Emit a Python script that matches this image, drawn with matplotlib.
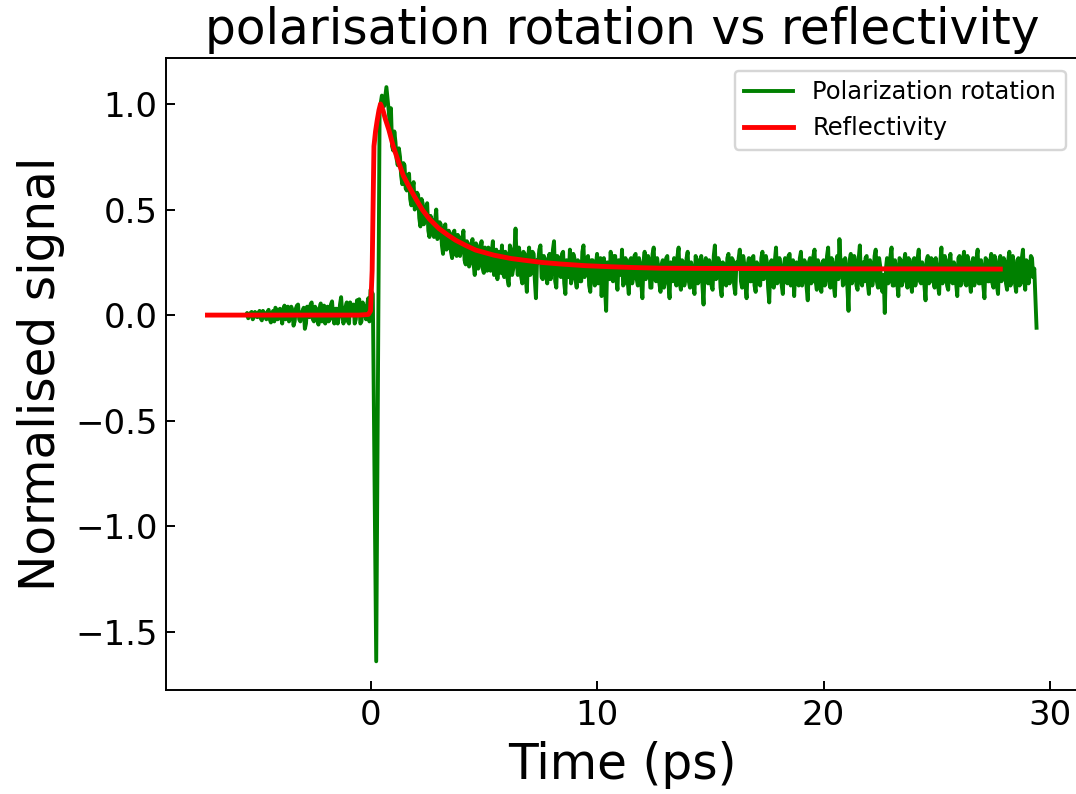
import numpy as np
import matplotlib
matplotlib.use("Agg")
import matplotlib.pyplot as plt

# ---------------- data ----------------
# Reflectivity (smooth fit curve)
refl_t = [-7.2, -6.0, -4.0, -2.0, -0.5, -0.1, 0.0, 0.07, 0.15, 0.22, 0.29, 0.37,
          0.44, 0.55, 0.65, 0.81, 1.0, 1.25, 1.45, 1.69, 2.0, 2.28, 2.6, 3.02,
          3.4, 3.75, 4.2, 4.64, 5.44, 6.2, 6.92, 7.6, 8.39, 9.5, 10.6, 11.7,
          12.8, 15.0, 18.0, 21.0, 24.0, 27.8]
refl_v = [0.0, 0.0, 0.0, 0.0, 0.0, 0.003, 0.02, 0.21, 0.80, 0.87, 0.92, 0.97,
          1.0, 0.97, 0.93, 0.877, 0.80, 0.72, 0.66, 0.61, 0.55, 0.50, 0.455, 0.41,
          0.38, 0.355, 0.33, 0.308, 0.284, 0.268, 0.258, 0.249, 0.242, 0.234, 0.229, 0.225,
          0.222, 0.221, 0.220, 0.219, 0.219, 0.218]

# Polarization rotation (noisy measurement)
# pre-time-zero part: samples at t = -5.5 ... 0.0 (step 0.1)
pol_pre_start, pol_pre_step = -5.5, 0.1
pol_pre = [0.00, -0.015, 0.01, -0.02, 0.015, -0.01, 0.02, -0.025, 0.01, -0.02,
           0.025, -0.035, 0.02, 0.035, -0.02, 0.03, -0.04, 0.045, 0.00, -0.03,
           0.04, -0.05, 0.03, 0.05, -0.03, 0.02, -0.065, 0.04, -0.01, 0.06,
           -0.03, 0.03, -0.045, 0.055, 0.01, -0.04, 0.04, -0.02, 0.065, -0.04,
           0.03, -0.01, 0.085, -0.04, 0.04, -0.03, 0.06, 0.00, -0.04, 0.07,
           0.075, -0.03, 0.04, -0.02, 0.08, 0.12]
# intermediate samples at t = -5.45 ... -0.05 (step 0.1)
pol_pre_half_start = -5.45
pol_pre_half = [0.01, -0.005, 0.015, -0.01, 0.00, 0.01, -0.015, 0.02, -0.01, 0.015,
                -0.02, 0.01, -0.03, 0.025, -0.015, 0.00, 0.03, -0.02, 0.04, -0.01,
                0.02, -0.03, 0.045, -0.02, 0.01, 0.035, -0.04, 0.02, 0.05, -0.02,
                0.04, -0.02, 0.03, -0.03, 0.045, 0.02, -0.03, 0.05, -0.01, 0.03,
                -0.04, 0.05, 0.01, -0.02, 0.06, -0.04, 0.03, 0.05, -0.02, 0.04,
                -0.04, 0.06, 0.01, 0.05, -0.03]
# around time zero
pol_event_t = [0.1, 0.25, 0.4, 0.5, 0.6, 0.7]
pol_event = [0.10, -1.64, 0.97, 1.04, 0.99, 1.08]
# decay + plateau: samples at t = 0.8 ... 29.3 (step 0.1)
pol_dec_start, pol_dec_step = 0.8, 0.1
pol_dec = [
    0.97, 0.98, 0.78, 0.82, 0.71, 0.75, 0.62, 0.71, 0.59, 0.67,
    0.52, 0.63, 0.51, 0.57, 0.42, 0.53, 0.45, 0.53, 0.37, 0.45,
    0.37, 0.50, 0.37, 0.43, 0.29, 0.43, 0.32, 0.38, 0.27, 0.40,
    0.28, 0.37, 0.31, 0.40, 0.24, 0.34, 0.25, 0.36, 0.19, 0.33,
    0.24, 0.35, 0.20, 0.29, 0.32, 0.21, 0.35, 0.23, 0.17, 0.30,
    0.33, 0.18, 0.28, 0.14, 0.31, 0.22, 0.41, 0.19, 0.28, 0.15,
    0.29, 0.11, 0.32, 0.20, 0.29, 0.08, 0.25, 0.33, 0.17, 0.26,
    0.15, 0.29, 0.21, 0.35, 0.13, 0.27, 0.18, 0.30, 0.10, 0.25,
    0.31, 0.18, 0.27, 0.13, 0.25, 0.16, 0.33, 0.20, 0.28, 0.11,
    0.26, 0.14, 0.29, 0.18, 0.09, 0.27, 0.02, 0.24, 0.30, 0.16,
    0.28, 0.12, 0.23, 0.31, 0.15, 0.25, 0.10, 0.27, 0.18, 0.29,
    0.14, 0.24, 0.08, 0.30, 0.19, 0.26, 0.13, 0.32, 0.16, 0.23,
    0.11, 0.26, 0.16, 0.28, 0.08, 0.23, 0.27, 0.14, 0.32, 0.12,
    0.25, 0.17, 0.30, 0.13, 0.22, 0.10, 0.26, 0.16, 0.28, 0.05,
    0.27, 0.15, 0.23, 0.12, 0.33, 0.18, 0.25, 0.09, 0.24, 0.14,
    0.29, 0.17, 0.26, 0.10, 0.22, 0.31, 0.13, 0.24, 0.08, 0.27,
    0.16, 0.28, 0.11, 0.23, 0.14, 0.30, 0.18, 0.25, 0.06, 0.26,
    0.13, 0.32, 0.16, 0.22, 0.10, 0.27, 0.15, 0.29, 0.18, 0.09,
    0.25, 0.14, 0.30, 0.17, 0.24, 0.07, 0.27, 0.16, 0.31, 0.12,
    0.23, 0.11, 0.26, 0.18, 0.32, 0.13, 0.24, 0.09, 0.28, 0.36,
    0.26, 0.15, 0.22, 0.02, 0.29, 0.17, 0.25, 0.12, 0.33, 0.14,
    0.16, 0.28, 0.10, 0.24, 0.18, 0.31, 0.13, 0.23, 0.11, 0.01,
    0.27, 0.16, 0.32, 0.14, 0.22, 0.09, 0.26, 0.17, 0.29, 0.13,
    0.24, 0.11, 0.27, 0.18, 0.31, 0.15, 0.23, 0.07, 0.28, 0.16,
    0.26, 0.13, 0.22, 0.10, 0.32, 0.17, 0.25, 0.12, 0.29, 0.15,
    0.23, 0.09, 0.28, 0.18, 0.30, 0.14, 0.24, 0.11, 0.27, 0.17,
    0.31, 0.15, 0.22, 0.08, 0.26, 0.16, 0.29, 0.13, 0.23, 0.10,
    0.28, 0.17, 0.25, 0.12, 0.30, 0.16, 0.22, 0.11, 0.27, 0.15,
    0.31, 0.12, 0.25, 0.19, 0.27, 0.22,
]
# intermediate samples at t = 0.85 ... 29.25 (step 0.1)
pol_dec_half_start = 0.85
pol_dec_half = [
    0.90, 0.80, 0.87, 0.74, 0.79, 0.66, 0.72, 0.60, 0.66, 0.55,
    0.60, 0.50, 0.58, 0.46, 0.55, 0.43, 0.51, 0.40, 0.47, 0.39,
    0.45, 0.36, 0.44, 0.33, 0.41, 0.31, 0.40, 0.30, 0.39, 0.29,
    0.38, 0.28, 0.36, 0.26, 0.35, 0.23, 0.33, 0.24, 0.34, 0.22,
    0.31, 0.22, 0.32, 0.21, 0.25, 0.30, 0.19, 0.31, 0.24, 0.20,
    0.20, 0.30, 0.17, 0.33, 0.19, 0.30, 0.26, 0.32, 0.18, 0.30,
    0.18, 0.27, 0.19, 0.30, 0.17, 0.26, 0.31, 0.18, 0.28, 0.19,
    0.27, 0.17, 0.31, 0.16, 0.28, 0.19, 0.29, 0.15, 0.26, 0.18,
    0.15, 0.29, 0.17, 0.26, 0.16, 0.30, 0.18, 0.27, 0.14, 0.26,
    0.18, 0.24, 0.15, 0.27, 0.22, 0.13, 0.25, 0.17, 0.20, 0.28,
    0.17, 0.26, 0.19, 0.14, 0.27, 0.16, 0.26, 0.15, 0.28, 0.17,
    0.27, 0.15, 0.25, 0.17, 0.28, 0.13, 0.29, 0.17, 0.27, 0.15,
    0.24, 0.13, 0.27, 0.15, 0.25, 0.16, 0.19, 0.28, 0.15, 0.26,
    0.14, 0.27, 0.16, 0.25, 0.14, 0.28, 0.15, 0.26, 0.14, 0.24,
    0.16, 0.26, 0.14, 0.28, 0.17, 0.27, 0.13, 0.25, 0.15, 0.27,
    0.15, 0.27, 0.14, 0.25, 0.27, 0.16, 0.28, 0.14, 0.24, 0.16,
    0.27, 0.14, 0.25, 0.15, 0.27, 0.17, 0.28, 0.13, 0.24, 0.15,
    0.26, 0.15, 0.27, 0.14, 0.24, 0.16, 0.28, 0.14, 0.26, 0.22,
    0.15, 0.27, 0.14, 0.26, 0.13, 0.25, 0.15, 0.28, 0.16, 0.26,
    0.16, 0.25, 0.14, 0.28, 0.15, 0.27, 0.14, 0.25, 0.17, 0.24,
    0.14, 0.27, 0.13, 0.26, 0.15, 0.28, 0.14, 0.27, 0.16, 0.25,
    0.27, 0.15, 0.26, 0.14, 0.28, 0.16, 0.27, 0.13, 0.19, 0.22,
    0.15, 0.28, 0.14, 0.26, 0.15, 0.27, 0.14, 0.25, 0.16, 0.27,
    0.15, 0.26, 0.14, 0.27, 0.16, 0.25, 0.14, 0.26, 0.15, 0.27,
    0.16, 0.27, 0.14, 0.25, 0.15, 0.28, 0.14, 0.26, 0.16, 0.25,
    0.15, 0.27, 0.14, 0.26, 0.15, 0.28, 0.16, 0.25, 0.14, 0.27,
    0.15, 0.26, 0.14, 0.27, 0.16, 0.25, 0.15, 0.28, 0.14, 0.26,
    0.16, 0.27, 0.15, 0.26, 0.14, 0.28, 0.15, 0.26, 0.14, 0.27,
    0.17, 0.26, 0.15, 0.28, 0.18,
]
pol_end_t = [29.4]
pol_end = [-0.06]

title = "polarisation rotation vs reflectivity"
xlabel = "Time (ps)"
ylabel = "Normalised signal"
labels = ["Polarization rotation", "Reflectivity"]

# ---------------- build series ----------------
t_pre = pol_pre_start + pol_pre_step * np.arange(len(pol_pre))
t_pre_h = pol_pre_half_start + pol_pre_step * np.arange(len(pol_pre_half))
t_dec = pol_dec_start + pol_dec_step * np.arange(len(pol_dec))
t_dec_h = pol_dec_half_start + pol_dec_step * np.arange(len(pol_dec_half))
pol_t = np.concatenate([t_pre, t_pre_h, pol_event_t, t_dec, t_dec_h, pol_end_t])
pol_v = np.concatenate([pol_pre, pol_pre_half, pol_event, pol_dec, pol_dec_half, pol_end])
order = np.argsort(pol_t, kind="stable")
pol_t, pol_v = pol_t[order], pol_v[order]

# ---------------- figure ----------------
DPI = 175
fig = plt.figure(figsize=(1076 / DPI, 794 / DPI), dpi=DPI)
ax = fig.add_axes([166 / 1076, (794 - 690) / 794, 912 / 1076, (690 - 58.4) / 794])

ax.plot(pol_t, pol_v, color="green", lw=1.6, label=labels[0])
ax.plot(refl_t, refl_v, color="red", lw=2.0, label=labels[1])

ax.set_title(title, fontsize=20)
ax.set_xlabel(xlabel, fontsize=20)
ax.set_ylabel(ylabel, fontsize=20)
ax.tick_params(direction="in", labelsize=14)
ax.set_xticks([0, 10, 20, 30])
ax.set_yticks([-1.5, -1.0, -0.5, 0.0, 0.5, 1.0])
ax.legend(loc="upper right", fontsize=10)

fig.savefig("out.png", dpi=DPI)
